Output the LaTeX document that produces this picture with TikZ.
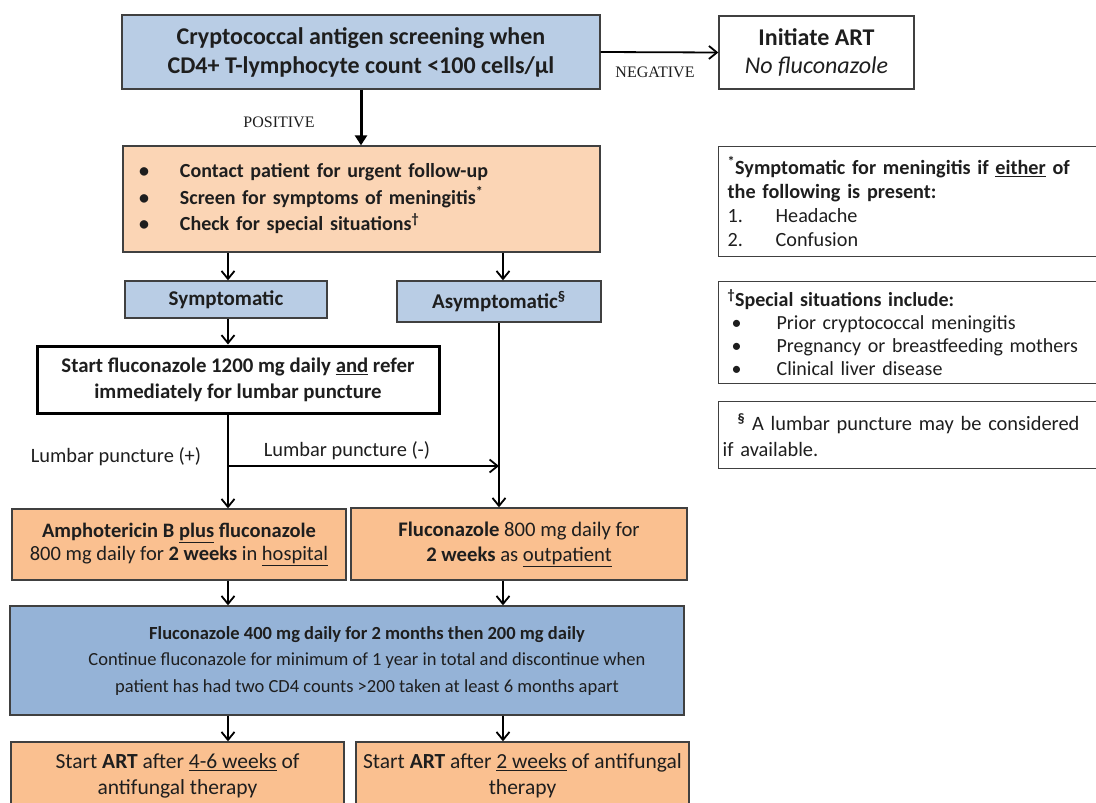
\documentclass[tikz,border=0pt]{standalone}
\usepackage{fontspec}
\setmainfont{Carlito}
\newfontfamily\timesfont{Liberation Serif}
\usetikzlibrary{arrows.meta,positioning}

\definecolor{paleblue}{HTML}{B9CDE5}
\definecolor{midblue}{HTML}{95B3D7}
\definecolor{peach}{HTML}{FBD5B5}
\definecolor{apricot}{HTML}{FAC090}
\definecolor{edgegray}{HTML}{404040}
\definecolor{ink}{HTML}{1E1E1E}

\newcommand{\fs}[2]{\fontsize{#1}{#2}\selectfont}
\newcommand{\bul}{\makebox[41pt][l]{\textbullet}}
\newcommand{\subul}{\makebox[49pt][l]{\hspace{4pt}\textbullet}}
\newcommand{\nudge}{\hspace*{40pt}}

\begin{document}
\begin{tikzpicture}[x=1pt,y=-1pt,
  box/.style={draw=edgegray, line width=1.3pt, inner sep=0pt, align=center, text=ink},
  note/.style={box, fill=white, anchor=north west, align=left},
  flow/.style={line width=1.8pt, -{Straight Barb[length=8pt,width=13pt]}},
  caps/.style={font=\timesfont\fs{16}{18}, text=ink},
  lplabel/.style={font=\fs{20.4}{24}, text=ink}]

  \useasboundingbox (0,0) rectangle (1096,803);
  \clip (0,0) rectangle (1096,803);
  \fill [white] (0,0) rectangle (1096,803);

  \coordinate (lcol) at (228,0);
  \coordinate (rcol) at (503,0);

  \node [box, fill=paleblue, minimum width=478, minimum height=74, font=\fs{24}{29}\bfseries] (screen) at (361,52)
    {Cryptococcal antigen screening when\\CD4+ T-lymphocyte count <100 cells/µl};
  \node [box, fill=white, minimum width=195, minimum height=73, font=\fs{24}{28}] (initiate) at (816.5,52.5)
    {\textbf{Initiate ART}\\\textit{No fluconazole}};

  \node [box, fill=peach, minimum width=477, minimum height=106, text width=445, align=left, font=\fs{20}{26.5}\bfseries] (contact) at (361.5,199)
    {\bul Contact patient for urgent follow-up\\\bul Screen for symptoms of meningitis\textsuperscript{*}\\\bul Check for special situations\textsuperscript{†}};

  \node [box, fill=paleblue, minimum width=202, minimum height=37, font=\fs{21}{24}\bfseries] (symp) at (226,299.5) {Symptomatic};
  \node [box, fill=paleblue, minimum width=204, minimum height=41, font=\fs{21}{24}\bfseries] (asymp) at (499,301.5) {Asymptomatic\textsuperscript{§}};

  \node [box, draw=black, line width=3pt, fill=white, minimum width=402, minimum height=67, font=\fs{20.8}{26}\bfseries] (start) at (238,379.5)
    {Start fluconazole 1200 mg daily \underline{and} refer\\immediately for lumbar puncture};

  \node [box, fill=apricot, minimum width=334, minimum height=71, font=\fs{20.5}{23}] (ampho) at (179,544.5)
    {\textbf{Amphotericin B \underline{plus} fluconazole}\\800 mg daily for \textbf{2 weeks} in \underline{hospital}};
  \node [box, fill=apricot, minimum width=336, minimum height=72, font=\fs{20.7}{25}] (fluco) at (519,544)
    {\textbf{Fluconazole} 800 mg daily for\\\textbf{2 weeks} as \underline{outpatient}};

  \node [box, fill=midblue, minimum width=674, minimum height=109, font=\fs{18.5}{26.5}] (maint) at (347,660.5)
    {\nudge\textbf{Fluconazole 400 mg daily for 2 months then 200 mg daily}\\\nudge Continue fluconazole for minimum of 1 year in total and discontinue when\\\nudge patient has had two CD4 counts >200 taken at least 6 months apart};

  \node [box, fill=apricot, minimum width=333, minimum height=68, font=\fs{21.5}{26}] (artlate) at (177.5,776)
    {Start \textbf{ART} after \underline{4-6 weeks} of\\antifungal therapy};
  \node [box, fill=apricot, minimum width=333, minimum height=68, font=\fs{21.5}{26}] (artearly) at (522.5,776)
    {Start \textbf{ART} after \underline{2 weeks} of antifungal\\therapy};

  % footnote boxes on the right
  \node [note, minimum height=110, inner xsep=9pt, text width=378, font=\fs{20.2}{24}] (notesym) at (718,146)
    {\textbf{\textsuperscript{*}Symptomatic for meningitis if \underline{either} of}\\\textbf{the following is present:}\\\makebox[48pt][l]{1.}Headache\\\makebox[48pt][l]{2.}Confusion};
  \node [note, minimum height=102, inner xsep=9pt, text width=378, font=\fs{20}{23}] (notespecial) at (718,281)
    {\textbf{\textsuperscript{†}Special situations include:}\\\subul Prior cryptococcal meningitis\\\subul Pregnancy or breastfeeding mothers\\\subul Clinical liver disease};
  \node [note, minimum height=67, inner xsep=4pt, text width=388, font=\fs{20.4}{26}] (notelp) at (718,401)
    {\hspace*{15pt}\textbf{\textsuperscript{§}} A lumbar puncture may be considered\\if available.};

  \node [caps] (neg) at (655,72) {NEGATIVE};
  \node [caps] (pos) at (279,122) {POSITIVE};
  \node [lplabel] (lpplus) at (116,457) {Lumbar puncture (+)};
  \node [lplabel] (lpminus) at (347,451) {Lumbar puncture (-)};

  \coordinate (branch) at (228,466);

  \draw [line width=3pt, -{Triangle[length=10pt,width=12pt]}] (screen.south) -- (screen.south |- contact.north);
  \draw [flow] (screen.east) -- (initiate.west);
  \draw [flow] (contact.south -| lcol) -- (symp.north -| lcol);
  \draw [flow] (contact.south -| rcol) -- (asymp.north -| rcol);
  \draw [flow] (symp.south -| lcol) -- (start.north -| lcol);
  \draw [flow] (start.south -| lcol) -- (ampho.north -| lcol);
  \draw [flow] (asymp.south) -- (fluco.north -| asymp);
  \draw [flow] (branch) -- (branch -| asymp);
  \draw [flow] (ampho.south -| lcol) -- (maint.north -| lcol);
  \draw [flow] (fluco.south -| rcol) -- (maint.north -| rcol);
  \draw [flow] (maint.south -| lcol) -- (artlate.north -| lcol);
  \draw [flow] (maint.south -| rcol) -- (artearly.north -| rcol);
\end{tikzpicture}
\end{document}
